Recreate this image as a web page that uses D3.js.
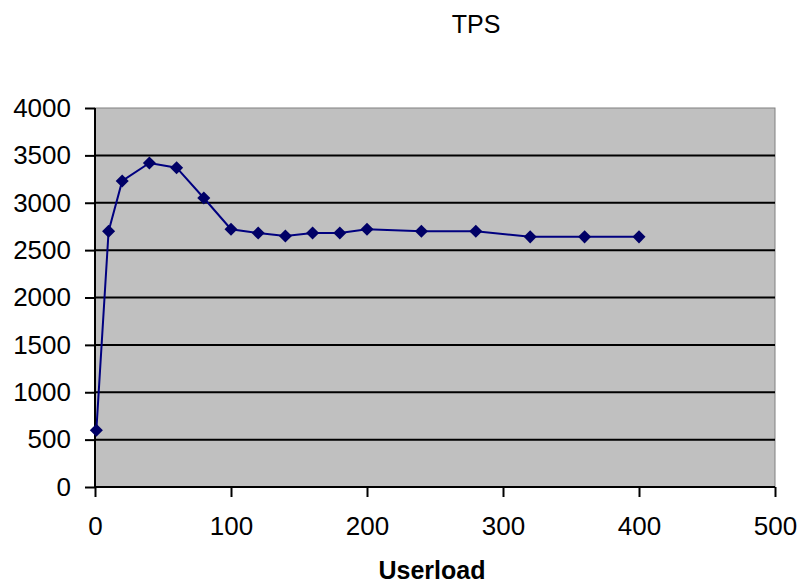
<!DOCTYPE html>
<html>
<head>
<meta charset="utf-8">
<script src="https://cdn.jsdelivr.net/npm/d3@7"></script>
<style>
  body { margin: 0; background: #fff; }
  text { font-family: "Liberation Sans", Arial, sans-serif; fill: #000; }
</style>
</head>
<body>
<svg id="chart" width="799" height="587"></svg>
<script>
// data
const userload = [1, 10, 20, 40, 60, 80, 100, 120, 140, 160, 180, 200, 240, 280, 320, 360, 400];
const tps = [600, 2700, 3230, 3420, 3370, 3050, 2720, 2680, 2650, 2680, 2680, 2720, 2700, 2700, 2640, 2640, 2640];
const xTicks = [0, 100, 200, 300, 400, 500];
const yTicks = [0, 500, 1000, 1500, 2000, 2500, 3000, 3500, 4000];

const svg = d3.select('#chart');
const plot = { left: 95, right: 775, top: 108, bottom: 487 };

const x = d3.scaleLinear().domain([0, 500]).range([plot.left, plot.right]);
const y = d3.scaleLinear().domain([0, 4000]).range([plot.bottom, plot.top]);

// plot area
svg.append('rect')
    .attr('x', plot.left).attr('y', plot.top)
    .attr('width', plot.right - plot.left).attr('height', plot.bottom - plot.top)
    .attr('fill', '#c0c0c0')
    .attr('stroke', '#808080').attr('stroke-width', 1);

// gridlines
svg.append('g').selectAll('line')
    .data(yTicks.filter(d => d > 0 && d < 4000))
    .enter().append('line')
    .attr('x1', plot.left).attr('x2', plot.right)
    .attr('y1', d => y(d)).attr('y2', d => y(d))
    .attr('stroke', '#000').attr('stroke-width', 2);

// axes
const yAxis = svg.append('g')
    .attr('transform', 'translate(' + plot.left + ',0)')
    .call(d3.axisLeft(y).tickValues(yTicks).tickSize(10).tickPadding(14).tickFormat(d3.format('d')));
const xAxis = svg.append('g')
    .attr('transform', 'translate(0,' + plot.bottom + ')')
    .call(d3.axisBottom(x).tickValues(xTicks).tickSize(10).tickPadding(20).tickFormat(d3.format('d')));

[yAxis, xAxis].forEach(a => {
    a.select('.domain').attr('stroke', '#000').attr('stroke-width', 2);
    a.selectAll('.tick line').attr('stroke', '#000').attr('stroke-width', 2);
    a.selectAll('.tick text').attr('font-size', 26).attr('fill', '#111');
});
yAxis.select('.domain').attr('d', 'M0,' + plot.top + 'V' + plot.bottom);
xAxis.select('.domain').attr('d', 'M' + plot.left + ',0H' + plot.right);

// series
const pts = userload.map((u, i) => ({ u: u, v: tps[i] }));
svg.append('path')
    .datum(pts)
    .attr('fill', 'none')
    .attr('stroke', '#000080')
    .attr('stroke-width', 2)
    .attr('d', d3.line().x(d => x(d.u)).y(d => y(d.v)));

svg.append('g').selectAll('path')
    .data(pts)
    .enter().append('path')
    .attr('d', d3.symbol(d3.symbolSquare, 85))
    .attr('fill', '#000066')
    .attr('transform', d => 'translate(' + x(d.u) + ',' + y(d.v) + ') rotate(45)');

// titles
svg.append('text')
    .attr('x', 476).attr('y', 33)
    .attr('text-anchor', 'middle')
    .attr('font-size', 25)
    .text('TPS');

svg.append('text')
    .attr('x', 432).attr('y', 579)
    .attr('text-anchor', 'middle')
    .attr('font-size', 25)
    .attr('font-weight', 'bold')
    .text('Userload');
</script>
</body>
</html>
